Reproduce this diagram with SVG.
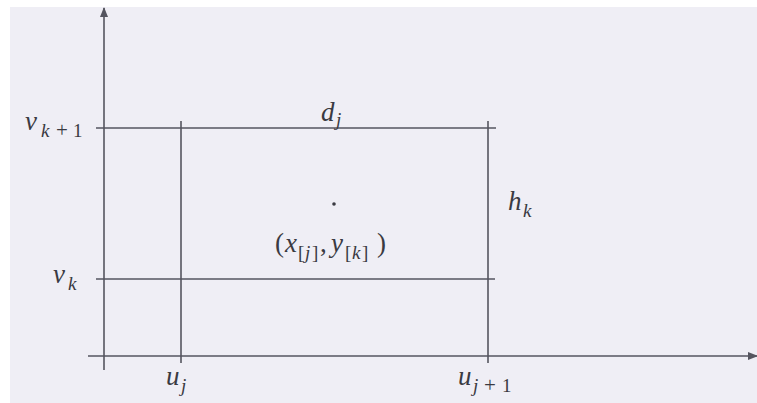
<svg xmlns="http://www.w3.org/2000/svg" width="757" height="403" viewBox="0 0 757 403">
  <defs>
    <marker id="arr" markerWidth="10" markerHeight="8" refX="9" refY="4" orient="auto" markerUnits="userSpaceOnUse">
      <path d="M0,0 L10,4 L0,8 Z" fill="#55555f"/>
    </marker>
  </defs>
  <rect x="0" y="0" width="757" height="403" fill="#ffffff"/>
  <rect x="10" y="7" width="747" height="396" fill="#efeef5"/>

  <g id="connectors" stroke="#55555f" stroke-width="1.6" fill="none">
    <line id="y-axis" x1="104" y1="370" x2="104" y2="8" marker-end="url(#arr)"/>
    <line id="x-axis" x1="88" y1="356" x2="757" y2="356" marker-end="url(#arr)"/>
    <line id="v-k1" x1="96" y1="128" x2="496" y2="128"/>
    <line id="v-k" x1="96" y1="279" x2="495" y2="279"/>
    <line id="u-j" x1="181" y1="121" x2="181" y2="363"/>
    <line id="u-j1" x1="488" y1="121" x2="488" y2="363"/>
  </g>

  <g id="point">
    <circle cx="334" cy="204" r="1.8" fill="#3a3a42"/>
  </g>

  <g id="label-vk1">
    <text x="25" y="130" font-family="Liberation Serif" font-size="27" font-style="italic" fill="#3a3a42">v</text>
    <text x="41" y="137" font-family="Liberation Serif" font-size="19" font-style="italic" fill="#3a3a42">k</text>
    <text x="56" y="137" font-family="Liberation Serif" font-size="21" fill="#3a3a42">+</text>
    <text x="73" y="137" font-family="Liberation Serif" font-size="19" fill="#3a3a42">1</text>
  </g>
  <g id="label-vk">
    <text x="53" y="283" font-family="Liberation Serif" font-size="27" font-style="italic" fill="#3a3a42">v</text>
    <text x="68" y="290" font-family="Liberation Serif" font-size="19" font-style="italic" fill="#3a3a42">k</text>
  </g>
  <g id="label-dj">
    <text x="321" y="121" font-family="Liberation Serif" font-size="27" font-style="italic" fill="#3a3a42">d</text>
    <text x="336" y="126" font-family="Liberation Serif" font-size="19" font-style="italic" fill="#3a3a42">j</text>
  </g>
  <g id="label-hk">
    <text x="508" y="210" font-family="Liberation Serif" font-size="27" font-style="italic" fill="#3a3a42">h</text>
    <text x="523" y="217" font-family="Liberation Serif" font-size="19" font-style="italic" fill="#3a3a42">k</text>
  </g>
  <g id="label-uj">
    <text x="166" y="385" font-family="Liberation Serif" font-size="27" font-style="italic" fill="#3a3a42">u</text>
    <text x="181" y="392" font-family="Liberation Serif" font-size="19" font-style="italic" fill="#3a3a42">j</text>
  </g>
  <g id="label-uj1">
    <text x="458" y="385" font-family="Liberation Serif" font-size="27" font-style="italic" fill="#3a3a42">u</text>
    <text x="473" y="392" font-family="Liberation Serif" font-size="19" font-style="italic" fill="#3a3a42">j</text>
    <text x="484" y="392" font-family="Liberation Serif" font-size="21" fill="#3a3a42">+</text>
    <text x="502" y="392" font-family="Liberation Serif" font-size="19" fill="#3a3a42">1</text>
  </g>
  <g id="label-point">
    <text x="275" y="252" font-family="Liberation Serif" font-size="27" fill="#3a3a42">(</text>
    <text x="285" y="252" font-family="Liberation Serif" font-size="27" font-style="italic" fill="#3a3a42">x</text>
    <text x="298" y="259" font-family="Liberation Serif" font-size="19" fill="#3a3a42">[</text>
    <text x="305" y="259" font-family="Liberation Serif" font-size="19" font-style="italic" fill="#3a3a42">j</text>
    <text x="312" y="259" font-family="Liberation Serif" font-size="19" fill="#3a3a42">]</text>
    <text x="320" y="252" font-family="Liberation Serif" font-size="27" fill="#3a3a42">,</text>
    <text x="331" y="252" font-family="Liberation Serif" font-size="27" font-style="italic" fill="#3a3a42">y</text>
    <text x="345" y="259" font-family="Liberation Serif" font-size="19" fill="#3a3a42">[</text>
    <text x="352" y="259" font-family="Liberation Serif" font-size="19" font-style="italic" fill="#3a3a42">k</text>
    <text x="362" y="259" font-family="Liberation Serif" font-size="19" fill="#3a3a42">]</text>
    <text x="377" y="252" font-family="Liberation Serif" font-size="27" fill="#3a3a42">)</text>
  </g>
</svg>
